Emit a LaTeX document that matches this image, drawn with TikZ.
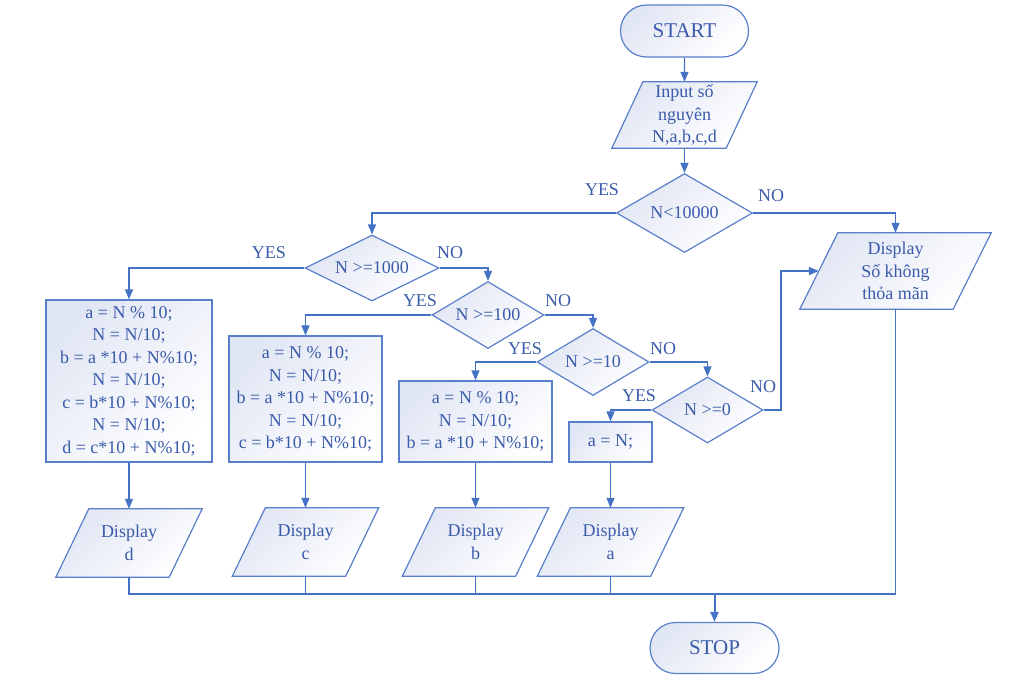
\documentclass[tikz,border=0pt]{standalone}
\usepackage{fontspec}
\setmainfont{Liberation Serif}
\usetikzlibrary{shapes.geometric,shapes.misc,arrows.meta,backgrounds}
\definecolor{flowline}{HTML}{4472C4}
\definecolor{flowedge}{HTML}{5A7FCA}
\definecolor{flowtext}{HTML}{3A5BAA}
\definecolor{flowshade}{HTML}{E1E6F4}
\tikzset{
  shading fill/.style={draw=flowedge, line width=1.2pt, top color=flowshade, bottom color=white,
    shading angle=45},
  shade box/.style={shading fill, text=flowtext, font=\fontsize{18}{22.5}\selectfont,
    align=center, inner sep=0pt},
  terminal/.style={shade box, rounded rectangle, minimum width=128pt, minimum height=52pt,
    font=\fontsize{21}{25}\selectfont},
  io/.style={rectangle, text=flowtext, font=\fontsize{18}{22.5}\selectfont, align=center,
    inner sep=0pt},
  process/.style={shade box, rectangle},
  decision/.style={shade box, diamond, aspect=1.7},
  flow/.style={draw=flowline, line width=1.2pt},
  arr/.style={flow, -{Triangle[length=10pt,width=8pt]}},
  lbl/.style={text=flowtext, font=\fontsize{18}{22}\selectfont, inner sep=0pt}
}
% slanted frame behind an io node: #1 node name, #2 slant
\newcommand{\ioframe}[2]{%
  \begin{scope}[on background layer]
    \path[shading fill] ([xshift=#2/2]#1.north west) -- ([xshift=#2/2]#1.north east)
      -- ([xshift=-#2/2]#1.south east) -- ([xshift=-#2/2]#1.south west) -- cycle;
  \end{scope}}
\begin{document}
\begin{tikzpicture}[x=1pt, y=-1pt]
  \useasboundingbox (0,0) rectangle (1023,683);
  % start and input
  \node[terminal] (start) at (684.5,31) {START};
  \node[io, minimum width=114pt, minimum height=66pt] (input) at (684.5,115) {Input số\\nguyên\\N,a,b,c,d};
  \ioframe{input}{31}
  % decisions
  \node[decision, minimum width=136pt, minimum height=79pt] (d10000) at (684.5,213) {N<10000};
  \node[decision, minimum width=134pt, minimum height=66pt] (d1000) at (372,268) {N >=1000};
  \node[decision, minimum width=112pt, minimum height=67pt] (d100) at (488,315) {N >=100};
  \node[decision, minimum width=112pt, minimum height=67pt] (d10) at (593,362) {N >=10};
  \node[decision, minimum width=111pt, minimum height=66pt] (d0) at (707.5,410) {N >=0};
  \node[io, minimum width=153pt, minimum height=76pt] (nothing) at (895.5,271) {Display\\Số không\\thỏa mãn};
  \ioframe{nothing}{38}
  % processing boxes
  \node[process, minimum width=166pt, minimum height=162pt] (calc4) at (129,381)
    {a = N \% 10;\\N = N/10;\\b = a *10 + N\%10;\\N = N/10;\\c = b*10 + N\%10;\\N = N/10;\\d = c*10 + N\%10;};
  \node[process, minimum width=153pt, minimum height=126pt] (calc3) at (305.5,399)
    {a = N \% 10;\\N = N/10;\\b = a *10 + N\%10;\\N = N/10;\\c = b*10 + N\%10;};
  \node[process, minimum width=153pt, minimum height=81pt] (calc2) at (475.5,421.5)
    {a = N \% 10;\\N = N/10;\\b = a *10 + N\%10;};
  \node[process, minimum width=83pt, minimum height=40pt] (calc1) at (610.5,442) {a = N;};
  % outputs
  \node[io, minimum width=113pt, minimum height=68pt] (dispd) at (129,543) {Display\\d};
  \node[io, minimum width=113pt, minimum height=68pt] (dispc) at (305.5,542) {Display\\c};
  \node[io, minimum width=113pt, minimum height=68pt] (dispb) at (475.5,542) {Display\\b};
  \node[io, minimum width=113pt, minimum height=68pt] (dispa) at (610.5,542) {Display\\a};
  \ioframe{dispd}{33}
  \ioframe{dispc}{33}
  \ioframe{dispb}{33}
  \ioframe{dispa}{33}
  \node[terminal, minimum width=129pt, minimum height=51pt] (stop) at (714.5,648) {STOP};
  % branch labels
  \node[lbl] (yes1) at (602,190) {YES};
  \node[lbl] (no1) at (771,196) {NO};
  \node[lbl] (yes2) at (269,253) {YES};
  \node[lbl] (no2) at (450,253) {NO};
  \node[lbl] (yes3) at (420,301) {YES};
  \node[lbl] (no3) at (558,301) {NO};
  \node[lbl] (yes4) at (525,349) {YES};
  \node[lbl] (no4) at (663,349) {NO};
  \node[lbl] (yes5) at (639,396) {YES};
  \node[lbl] (no5) at (763,387) {NO};
  % connectors
  \coordinate (nobend) at (781,410);
  \coordinate (merge) at (714.5,594);
  \draw[arr] (start) -- (input);
  \draw[arr] (input) -- (d10000);
  \draw[arr] (d10000.west) -| (d1000.north);
  \draw[arr] (d10000.east) -| (nothing.north);
  \draw[arr] (d1000.west) -| (calc4.north);
  \draw[arr] (d1000.east) -| (d100.north);
  \draw[arr] (d100.west) -| (calc3.north);
  \draw[arr] (d100.east) -| (d10.north);
  \draw[arr] (d10.west) -| (calc2.north);
  \draw[arr] (d10.east) -| (d0.north);
  \draw[arr] (d0.west) -| (calc1.north);
  \draw[arr] (d0.east) -- (nobend) |- (nothing.west);
  \draw[arr] (calc4) -- (dispd);
  \draw[arr] (calc3) -- (dispc);
  \draw[arr] (calc2) -- (dispb);
  \draw[arr] (calc1) -- (dispa);
  \draw[flow] (dispd.south) |- (merge);
  \draw[flow] (dispc.south) |- (merge);
  \draw[flow] (dispb.south) |- (merge);
  \draw[flow] (nothing.south) |- (merge);
  \draw[flow] (dispa.south) -- (dispa.south |- merge);
  \draw[arr, line width=2pt] (dispa.south |- merge) -- (merge) -- (stop);
\end{tikzpicture}
\end{document}
